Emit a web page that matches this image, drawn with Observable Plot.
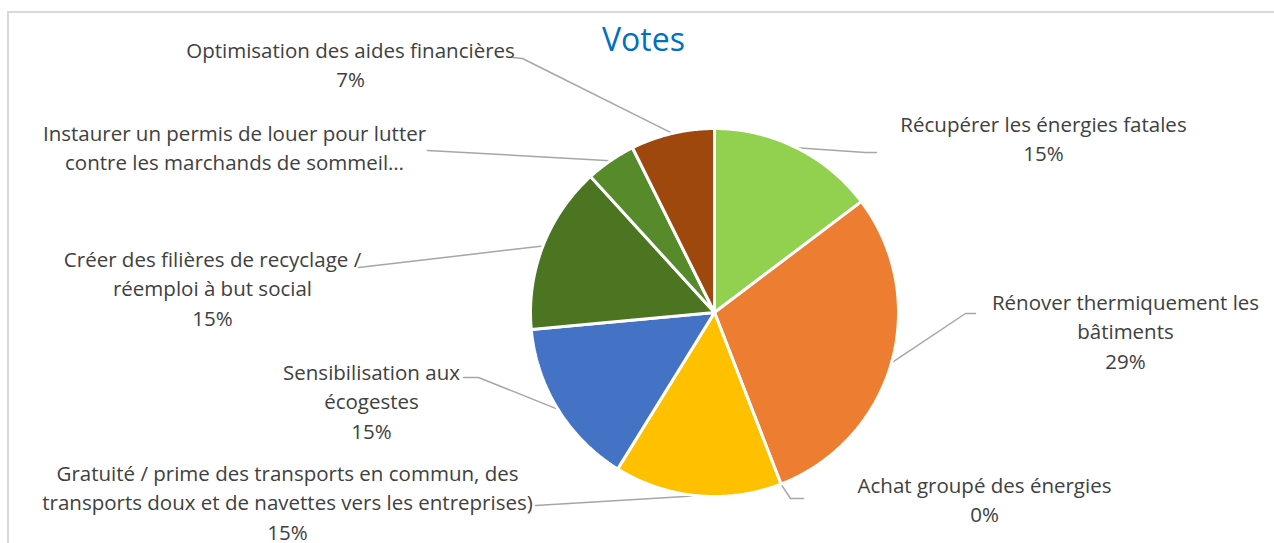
<!DOCTYPE html>
<html>
<head>
<meta charset="utf-8">
<script src="https://cdn.jsdelivr.net/npm/d3@7"></script>
<script src="https://cdn.jsdelivr.net/npm/@observablehq/plot@0.6"></script>
<style>
  html, body { margin: 0; padding: 0; background: #fff; }
  #wrap { position: relative; width: 1274px; height: 543px; overflow: hidden; }
  #frame { position: absolute; left: 7px; top: 11px; width: 1300px; height: 600px;
           border-left: 2px solid #D9D9D9; border-top: 2px solid #D9D9D9; pointer-events: none; }
  svg { font-family: "Open Sans", Lato, sans-serif; }
</style>
</head>
<body>
<div id="wrap"><div id="frame"></div></div>
<script>
// ---- data ----
const title = "Votes";
const categories = [
  "Récupérer les énergies fatales",
  "Rénover thermiquement les bâtiments",
  "Achat groupé des énergies",
  "Gratuité / prime des transports en commun, des transports doux et de navettes vers les entreprises)",
  "Sensibilisation aux écogestes",
  "Créer des filières de recyclage / réemploi à but social",
  "Instaurer un permis de louer pour lutter contre les marchands de sommeil…",
  "Optimisation des aides financières"
];
const votes = [10, 20, 0, 10, 10, 10, 3, 5];
const labelLines = [
  ["Récupérer les énergies fatales"],
  ["Rénover thermiquement les", "bâtiments"],
  ["Achat groupé des énergies"],
  ["Gratuité / prime des transports en commun, des", "transports doux et de navettes vers les entreprises)"],
  ["Sensibilisation aux", "écogestes"],
  ["Créer des filières de recyclage /", "réemploi à but social"],
  ["Instaurer un permis de louer pour lutter", "contre les marchands de sommeil…"],
  ["Optimisation des aides financières"]
];
const showPct = [true, true, true, true, true, true, false, true];
const colors = ["#92D050", "#ED7D31", "#A5A5A5", "#FFC000", "#4472C4", "#4B7521", "#568A2B", "#9E480E"];

// ---- layout (pixels) ----
const W = 1274, H = 543, CX = 714, CY = 312, R = 184, LH = 29.5, FS = 20.5;
const labelPos = [[1043,122],[1125,300],[984,483],[287,471],[371,370],[212,257],[234,131],[350,48]];
const leaderPts = [
  [[865,152],[876,152]],
  [[965,313],[975,313]],
  [[790,498],[803,498]],
  [[535,505]],
  [[478,377],[463,377]],
  [[358,267]],
  [[427,150]],
  [[522,58],[512,57]]
];
const toX = px => (px - CX) / R;
const toY = py => (CY - py) / R;

// ---- derived ----
const total = d3.sum(votes);
const rows = categories.map((c, i) => ({cat: c, v: votes[i], i}));
const arcs = d3.pie().sort(null).value(d => d.v)(rows);

const slicePts = [];
arcs.forEach(a => {
  if (a.endAngle - a.startAngle <= 0) return;
  slicePts.push({cat: a.data.cat, x: 0, y: 0});
  const n = Math.max(2, Math.ceil((a.endAngle - a.startAngle) / 0.01));
  for (let k = 0; k <= n; k++) {
    const t = a.startAngle + (a.endAngle - a.startAngle) * k / n;
    slicePts.push({cat: a.data.cat, x: Math.sin(t), y: Math.cos(t)});
  }
  slicePts.push({cat: a.data.cat, x: 0, y: 0});
});

const leaderData = [];
arcs.forEach((a, i) => {
  const m = (a.startAngle + a.endAngle) / 2;
  leaderData.push({cat: a.data.cat, x: Math.sin(m), y: Math.cos(m)});
  leaderPts[i].forEach(p => leaderData.push({cat: a.data.cat, x: toX(p[0]), y: toY(p[1])}));
});

const labelData = rows.map((r, i) => {
  const lines = labelLines[i].slice();
  if (showPct[i]) lines.push(Math.round(r.v / total * 100) + "%");
  const cy = labelPos[i][1] + (lines.length - 1) * LH / 2;
  return {text: lines.join("\n"), x: toX(labelPos[i][0]), y: toY(cy)};
});

const chart = Plot.plot({
  width: W, height: H,
  margin: 0,
  x: {domain: [toX(0), toX(W)], axis: null},
  y: {domain: [toY(H), toY(0)], axis: null},
  color: {domain: categories, range: colors},
  marks: [
    Plot.line(leaderData, {x: "x", y: "y", z: "cat", stroke: "#A6A6A6", strokeWidth: 1.5, curve: "linear"}),
    Plot.line(slicePts, {x: "x", y: "y", z: "cat", fill: "cat", stroke: "white", strokeWidth: 3, strokeLinejoin: "miter"}),
    Plot.text(labelData, {x: "x", y: "y", text: "text", fill: "#404040", fontSize: FS, lineHeight: LH / FS, lineAnchor: "middle", textAnchor: "middle"}),
    Plot.text([title], {x: toX(643), y: toY(40), text: d => d, fill: "#0070C0", fontSize: 32, textAnchor: "middle", lineAnchor: "middle"})
  ]
});
document.getElementById("wrap").prepend(chart);
</script>
</body>
</html>
